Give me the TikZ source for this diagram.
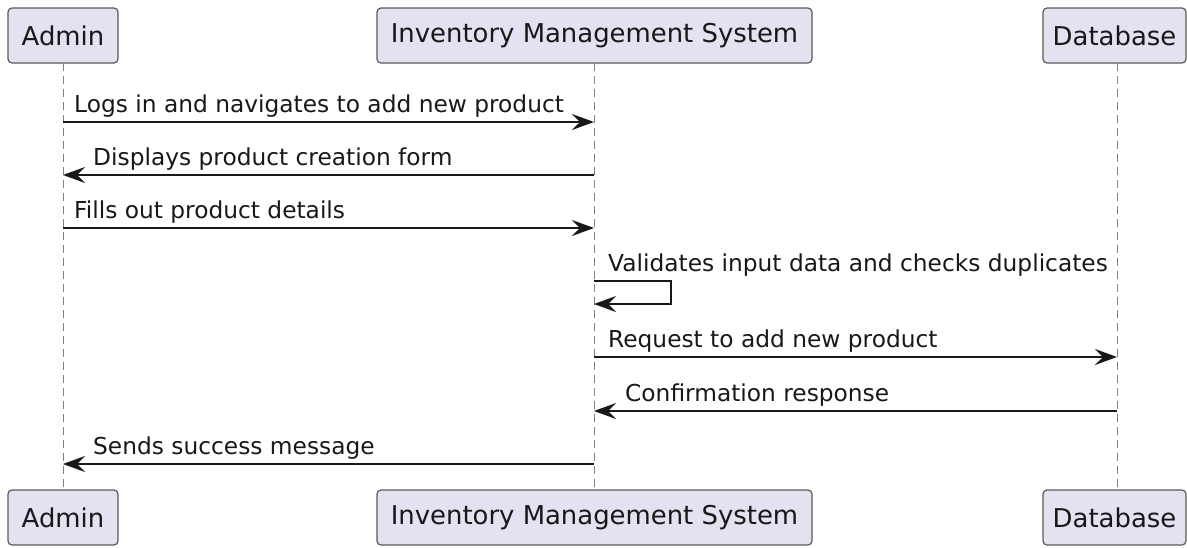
\documentclass[tikz,border=0pt]{standalone}
\usepackage{fontspec}
\setmainfont{DejaVu Sans}
\usetikzlibrary{arrows.meta}
\definecolor{partfill}{HTML}{E2E2F0}
\definecolor{partline}{HTML}{5A5A5A}
\definecolor{ink}{HTML}{181818}
\tikzset{
  part/.style={draw=partline, fill=partfill, rounded corners=4pt, line width=1.2pt,
    minimum height=55pt, inner sep=0pt, font=\fontsize{25.9}{30}\selectfont, text=ink},
  life/.style={draw=gray, dash pattern=on 8pt off 5pt, line width=1pt},
  msg/.style={draw=ink, line width=1.5pt, -{Stealth[length=22pt,width=16pt,inset=8pt]}},
  lbl/.style={font=\fontsize{23.3}{28}\selectfont, anchor=base west, inner sep=0pt, text=ink},
}
\begin{document}
\begin{tikzpicture}[x=1pt,y=-1pt]
\useasboundingbox (0,0) rectangle (1187,547);
% participants top
\node[part, minimum width=110pt] (adminT) at (63,35.5) {Admin};
\node[part, minimum width=435pt] (imsT) at (594.5,35.5) {Inventory Management System};
\node[part, minimum width=143pt] (dbT) at (1114.5,35.5) {Database};
% participants bottom
\node[part, minimum width=110pt] (adminB) at (63,517.5) {Admin};
\node[part, minimum width=435pt] (imsB) at (594.5,517.5) {Inventory Management System};
\node[part, minimum width=143pt] (dbB) at (1114.5,517.5) {Database};
% lifelines
\draw[life] (63,63) coordinate (aTop) -- (63,490) coordinate (aBot);
\draw[life] (594,63) coordinate (iTop) -- (594,490) coordinate (iBot);
\draw[life] (1117,63) coordinate (dTop) -- (1117,490) coordinate (dBot);
% anchor coordinates on lifelines
\coordinate (a1) at (63,122);  \coordinate (i1) at (594,122);
\coordinate (a2) at (63,175);  \coordinate (i2) at (594,175);
\coordinate (a3) at (63,228);  \coordinate (i3) at (594,228);
\coordinate (i4) at (594,281); \coordinate (i4b) at (594,304);
\coordinate (i5) at (594,357); \coordinate (d5) at (1117,357);
\coordinate (i6) at (594,411); \coordinate (d6) at (1117,411);
\coordinate (a7) at (63,464);  \coordinate (i7) at (594,464);
% messages
\draw[msg] (a1) -- (i1);
\node[lbl] (t1) at (74,112) {Logs in and navigates to add new product};
\draw[msg] (i2) -- (a2);
\node[lbl] (t2) at (93,165) {Displays product creation form};
\draw[msg] (a3) -- (i3);
\node[lbl] (t3) at (74,218) {Fills out product details};
\draw[msg] (i4) -- (671,281) -- (671,304) -- (i4b);
\node[lbl] (t4) at (608,271) {Validates input data and checks duplicates};
\draw[msg] (i5) -- (d5);
\node[lbl] (t5) at (608,347) {Request to add new product};
\draw[msg] (d6) -- (i6);
\node[lbl] (t6) at (625,401) {Confirmation response};
\draw[msg] (i7) -- (a7);
\node[lbl] (t7) at (93,454) {Sends success message};
\end{tikzpicture}
\end{document}
